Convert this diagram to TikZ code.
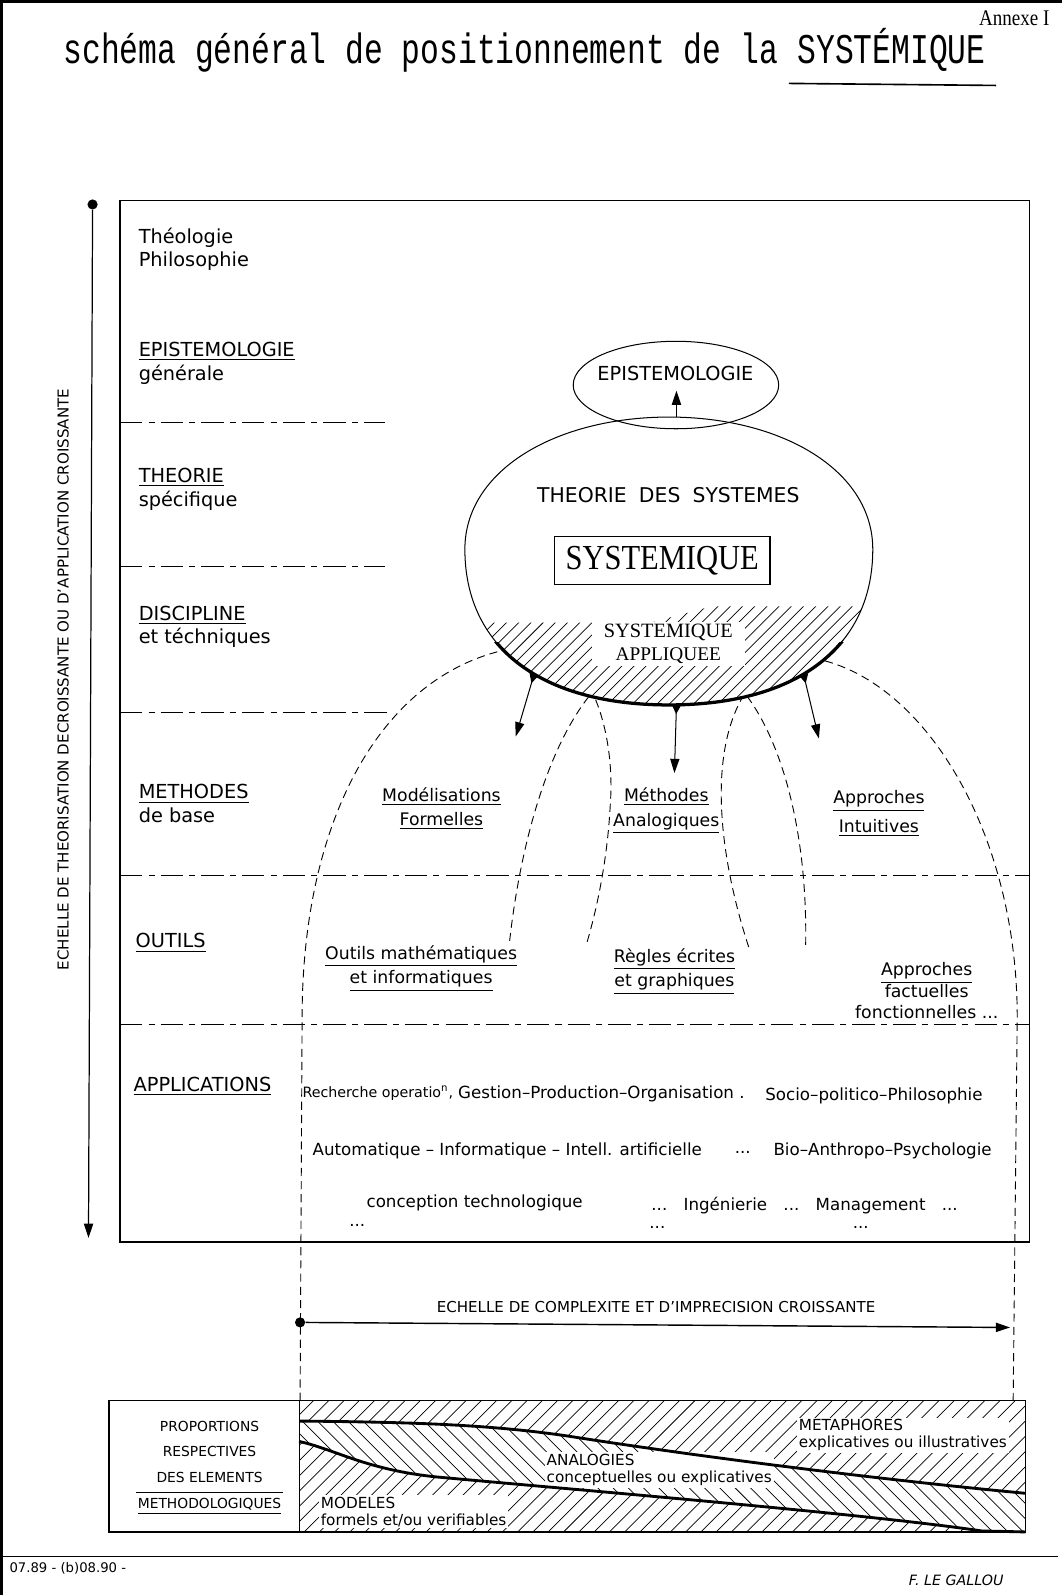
\documentclass[tikz,border=0pt]{standalone}
\usepackage{fontspec}
\setmainfont{Liberation Serif}
\setsansfont{DejaVu Sans}
\newfontfamily\typefont{Liberation Mono}
\usetikzlibrary{arrows.meta,positioning,calc,shapes.geometric}

\begin{document}
\begin{tikzpicture}[x=0.5pt, y=-0.5pt,
  lab/.style={font=\sffamily\fontsize{9.5}{11.5}\selectfont, align=left, anchor=west, inner sep=0pt},
  meth/.style={font=\sffamily\fontsize{8.5}{12}\selectfont, align=center, inner sep=0pt},
  appl/.style={font=\sffamily\fontsize{8.2}{9}\selectfont, anchor=west, inner sep=0pt},
  small/.style={font=\sffamily\fontsize{6.5}{8}\selectfont, inner sep=0.5pt},
  scalelab/.style={font=\sffamily\fontsize{7.4}{8}\selectfont, inner sep=0.5pt},
  boxtext/.style={font=\sffamily\fontsize{7.5}{8.3}\selectfont, fill=white, anchor=west, align=left, inner sep=1pt},
  levelline/.style={line width=0.5pt, dash pattern=on 11pt off 3pt on 3pt off 3pt},
  arch/.style={line width=0.45pt, dash pattern=on 4pt off 2.5pt},
  hatch/.style={line width=0.35pt},
  dot/.style={circle, fill, inner sep=0pt, minimum size=5pt},
  tip/.style={-{Triangle[length=7pt,width=4.5pt]}},
  outarrow/.style={{Triangle[reversed,length=4.5pt,width=4.5pt]}-{Triangle[length=7pt,width=4.5pt]}, line width=0.5pt}
]
\useasboundingbox (0,0) rectangle (1044,1568);
\draw[line width=2pt] (1,1568) -- (1,1) -- (1044,1);

\node[anchor=base east, inner sep=0pt, font=\fontsize{11}{12}\selectfont] (annexe) at (1032,25) {\scalebox{0.85}[1]{Annexe I}};
\node[anchor=base west, inner sep=0pt, font=\typefont\fontsize{15.4}{16}\selectfont] (titlea) at (62,62) {\scalebox{1}[1.35]{schéma général de positionnement de la}};
\node[anchor=base west, inner sep=0pt, font=\typefont\fontsize{15.4}{16}\selectfont] (sysword) at ([xshift=9.2pt]titlea.base east) {\scalebox{1}[1.35]{SYSTÉMIQUE}};
\draw[line width=0.8pt] ([yshift=-10pt,xshift=-4pt]sysword.base west) -- ([yshift=-11pt,xshift=5pt]sysword.base east);

\draw[line width=0.6pt] (118,197) rectangle (1012,1221);
\draw[levelline] (118,415) -- (378,415);
\draw[levelline] (118,557) -- (378,557);
\draw[levelline] (118,700) -- (380,700);
\draw[levelline] (118,861) -- (1012,861);
\draw[levelline] (118,1007) -- (1012,1007);

\node[dot] (axtop) at (91,201) {};
\coordinate (axend) at (87,1217);
\draw[tip, line width=0.6pt] (axtop) -- (axend);
\node[scalelab, rotate=90] (axlabel) at (62,668) {ECHELLE DE THEORISATION DECROISSANTE OU D'APPLICATION CROISSANTE};

\node[lab] (theolog) at (136,245) {Théologie\\Philosophie};
\node[lab] (epistl) at (136,357) {\underline{EPISTEMOLOGIE}\\générale};
\node[lab] (theorl) at (136,481) {\underline{THEORIE}\\spécifique};
\node[lab] (discl) at (136,616) {\underline{DISCIPLINE}\\et téchniques};
\node[lab] (methl) at (136,790) {\underline{METHODES}\\de base};
\node[lab] (outl) at (133,927) {\underline{OUTILS}};
\node[lab] (appll) at (131,1068) {\underline{APPLICATIONS}};

\draw[arch] (295,1377) -- (297,1000) .. controls (297,800) and (380,650) .. (520,635) .. controls (580,632) and (605,720) .. (600,790) .. controls (597,850) and (585,900) .. (576,930);
\draw[arch] (501,925) .. controls (515,800) and (560,650) .. (650,640) .. controls (735,630) and (795,760) .. (792,930);
\draw[arch] (736,931) .. controls (700,820) and (690,690) .. (770,645) .. controls (890,640) and (1000,800) .. (1000,1000) -- (996,1377);

\fill[white] (457,540) .. controls (457,462) and (547,410) .. (657.7,410) .. controls (768,410) and (858,462) .. (858,540) .. controls (858,635) and (785,693) .. (657.7,693) .. controls (530,693) and (457,635) .. (457,540) -- cycle;
\begin{scope}
  \clip (457,540) .. controls (457,462) and (547,410) .. (657.7,410) .. controls (768,410) and (858,462) .. (858,540) .. controls (858,635) and (785,693) .. (657.7,693) .. controls (530,693) and (457,635) .. (457,540) -- cycle;
  \clip (440,612) -- (640,612) -- (700,596) -- (880,596) -- (880,710) -- (440,710) -- cycle;
  \foreach \k in {0,...,46} \draw[hatch] (340+\k*12,710) -- ++(120,-120);
\end{scope}
\draw[line width=0.5pt] (457,540) .. controls (457,462) and (547,410) .. (657.7,410) .. controls (768,410) and (858,462) .. (858,540) .. controls (858,635) and (785,693) .. (657.7,693) .. controls (530,693) and (457,635) .. (457,540) -- cycle;
\begin{scope}
  \clip (440,632) rectangle (880,720);
  \draw[line width=1.6pt] (858,540) .. controls (858,635) and (785,693) .. (657.7,693) .. controls (530,693) and (457,635) .. (457,540);
\end{scope}

\node[draw, ellipse, line width=0.5pt, inner sep=0pt, minimum width=101pt, minimum height=43pt] (episell) at (664.5,378.5) {};
\node[font=\sffamily\fontsize{9.5}{11}\selectfont] (epistext) at (664,367) {EPISTEMOLOGIE};
\coordinate (theotop) at (665,410);
\coordinate (epitip) at (665,384);
\draw[tip, line width=0.8pt] (theotop) -- (epitip);

\node[font=\sffamily\fontsize{10}{12}\selectfont] (tds) at (657,487) {THEORIE\hspace{0.6em}DES\hspace{0.6em}SYSTEMES};
\node[draw, line width=0.6pt, inner sep=0pt, minimum width=106pt, minimum height=23.5pt, font=\fontsize{15}{16}\selectfont] (sysbox) at (651,551) {\scalebox{1}[1.15]{SYSTEMIQUE}};
\node[fill=white, align=center, inner xsep=6pt, inner ysep=1pt, font=\fontsize{10}{11.5}\selectfont] (sysapp) at (657,633) {SYSTEMIQUE\\{\fontsize{9.5}{11.5}\selectfont APPLIQUEE}};

\coordinate (formtail) at (525,663);
\coordinate (analtail) at (665,693);
\coordinate (intutail) at (790,663);
\coordinate (formtip) at (507,724);
\coordinate (analtip) at (663,760);
\coordinate (intutip) at (805,726);
\draw[outarrow] (formtail) -- (formtip);
\draw[outarrow] (analtail) -- (analtip);
\draw[outarrow] (intutail) -- (intutip);

\node[meth] (modf) at (434,795) {\underline{Modélisations}\\\underline{Formelles}};
\node[meth] (metha) at (655,797) {\underline{Méthodes}\\\underline{Analogiques}};
\node[meth] (approi) at (864,800) {\underline{Approches}\\[2pt]\underline{Intuitives}};
\node[meth] (outm) at (414,952) {\underline{Outils mathématiques}\\\underline{et informatiques}};
\node[meth] (regl) at (663,955) {\underline{Règles écrites}\\\underline{et graphiques}};
\node[meth, font=\sffamily\fontsize{8.5}{10.5}\selectfont] (appf) at (911,974) {\underline{Approches}\\factuelles\\fonctionnelles ...};

\node[appl, font=\sffamily\fontsize{7}{8}\selectfont] (rech) at (297,1075) {Recherche operatio\textsuperscript{n},};
\node[appl] (gest) at (450,1075) {Gestion–Production–Organisation .};
\node[appl] (socio) at (752,1077) {Socio–politico–Philosophie};
\node[appl] (auto) at (307,1131) {Automatique – Informatique – Intell. artificielle};
\node[appl] (dotsa) at (722,1133) {...};
\node[appl] (bio) at (760,1131) {Bio–Anthropo–Psychologie};
\node[appl] (concep) at (360,1183) {conception technologique};
\node[appl] (ingen) at (640,1185) {...\hspace{8pt}Ingénierie\hspace{8pt}...\hspace{8pt}Management\hspace{8pt}...};
\node[appl] (dotsb) at (343,1205) {...};
\node[appl] (dotsc) at (638,1207) {...};
\node[appl] (dotsd) at (838,1207) {...};

\node[dot] (cxdot) at (295,1300) {};
\coordinate (cxend) at (993,1305);
\draw[tip, line width=0.7pt] (cxdot) -- (cxend);
\node[scalelab] (cxlabel) at (645,1285) {ECHELLE DE COMPLEXITE ET D'IMPRECISION CROISSANTE};

\begin{scope}
  \clip (294,1377) -- (294,1397) .. controls (400,1398) and (480,1400) .. (560,1412) .. controls (700,1434) and (880,1456) .. (1008,1468) -- (1008,1377) -- cycle;
  \foreach \k in {0,...,58} \draw[hatch] (150+\k*15,1520) -- ++(150,-150);
\end{scope}
\begin{scope}
  \clip (294,1397) .. controls (400,1398) and (480,1400) .. (560,1412) .. controls (700,1434) and (880,1456) .. (1008,1468) -- (1008,1506) -- (294,1506) -- cycle;
  \foreach \k in {0,...,58} \draw[hatch] (150+\k*15,1370) -- ++(150,150);
\end{scope}
\begin{scope}
  \clip (294,1417) .. controls (330,1425) and (360,1445) .. (430,1452) .. controls (560,1464) and (850,1488) .. (965,1505) -- (1008,1506) -- (294,1506) -- cycle;
  \fill[white] (290,1400) rectangle (1010,1510);
  \foreach \k in {0,...,58} \draw[hatch] (150+\k*15,1520) -- ++(150,-150);
\end{scope}

\node[boxtext] (metaph) at (783,1411) {METAPHORES\\explicatives ou illustratives};
\node[boxtext] (analog) at (535,1445) {ANALOGIES\\conceptuelles ou explicatives};
\node[boxtext] (modl) at (313,1486) {MODELES\\formels et/ou verifiables};

\draw[line width=1.4pt] (294,1397) .. controls (400,1398) and (480,1400) .. (560,1412) .. controls (700,1434) and (880,1456) .. (1008,1468);
\draw[line width=1.4pt] (294,1417) .. controls (330,1425) and (360,1445) .. (430,1452) .. controls (560,1464) and (850,1488) .. (965,1505) -- (1008,1506);
\draw[line width=0.7pt] (107,1377) rectangle (1008,1506);
\draw[line width=0.5pt] (294,1377) -- (294,1506);

\node[small, align=center, font=\sffamily\fontsize{6.8}{12.5}\selectfont] (propo) at (206,1427) {PROPORTIONS\\RESPECTIVES\\DES ELEMENTS};
\node[small, font=\sffamily\fontsize{6.8}{8}\selectfont] (methodo) [below=6.5pt of propo] {\underline{METHODOLOGIQUES}};
\draw[line width=0.5pt] ([yshift=2pt]methodo.north west) -- ([yshift=2pt]methodo.north east);

\draw[line width=0.8pt] (0,1530) -- (1040,1530);
\node[small, anchor=west] (datel) at (8,1542) {07.89 - (b)08.90 -};
\node[small, font=\sffamily\itshape\fontsize{7}{8}\selectfont] (auth) at (940,1554) {F. LE GALLOU};
\end{tikzpicture}
\end{document}
